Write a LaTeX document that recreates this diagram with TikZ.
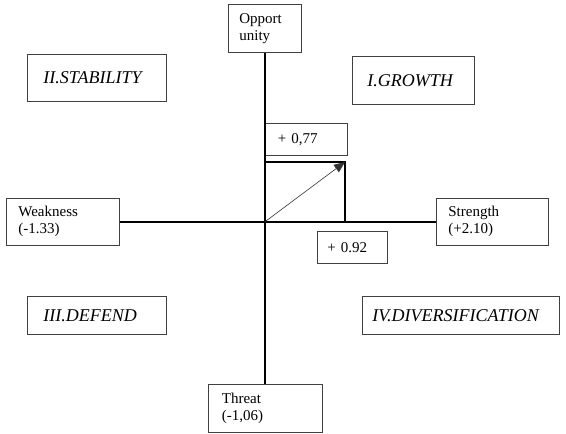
\documentclass[tikz,border=0pt]{standalone}
\usepackage{fontspec}
\setmainfont{Liberation Serif}
\usetikzlibrary{arrows.meta,positioning}

\begin{document}
\begin{tikzpicture}[x=1pt,y=-1pt,
    box/.style={draw=black!75, line width=0.7pt, anchor=north west, align=left,
      inner ysep=0pt, font=\fontsize{15}{17}\selectfont},
    quad/.style={box, font=\fontsize{18}{20}\selectfont\itshape},
    axis/.style={line width=1.4pt}]
    \useasboundingbox (0,0) rectangle (566,434);

    % Axis ends
    \node[box, minimum height=48pt, inner xsep=11pt, text width=51pt] (opp) at (228,4) {Opport\\unity};
    \node[box, minimum height=48pt, inner xsep=14pt, text width=86pt] (thr) at (207.5,384) {Threat\\(-1,06)};
    \node[box, minimum height=47pt, inner xsep=12pt, text width=89pt] (weak) at (6,198) {Weakness\\(-1.33)};
    \node[box, minimum height=47pt, inner xsep=12pt, text width=88pt] (str) at (436,198) {Strength\\(+2.10)};

    % Quadrants
    \node[quad, minimum height=47pt, inner xsep=16pt, text width=107pt] (stab) at (27,54) {II.STABILITY};
    \node[quad, minimum height=48pt, inner xsep=15pt, text width=92pt] (grow) at (352,56) {I.GROWTH};
    \node[quad, minimum height=38pt, inner xsep=16pt, text width=107pt] (def) at (27,296) {III.DEFEND};
    \node[quad, minimum height=38pt, inner xsep=10pt, text width=177pt] (div) at (362,296) {IV.DIVERSIFICATION};

    % Values
    \node[box, minimum height=32pt, inner xsep=13pt, text width=56pt] (valy) at (264.5,123) {+ 0,77};
    \node[box, minimum height=32pt, inner xsep=10pt, text width=50pt] (valx) at (317,231) {+ 0.92};

    % Axes
    \draw[axis] (opp.south) -- (thr.north);
    \draw[axis] (weak.east) -- (str.west);

    % Resulting position
    \coordinate (o) at (opp.south |- weak.east);
    \coordinate (tip) at (345,162);
    \draw[line width=1.8pt] (o |- tip) -- (tip) -- (tip |- o);
    \draw[-{Triangle[length=11pt,width=9pt]}, black!80, line width=0.6pt] (o) -- (tip);
\end{tikzpicture}
\end{document}
